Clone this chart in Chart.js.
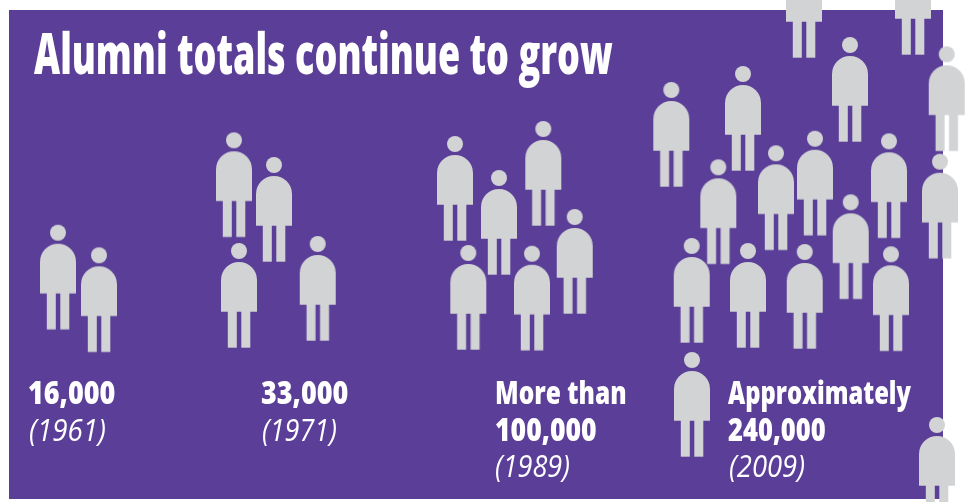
<!DOCTYPE html>
<html>
<head>
<meta charset="utf-8">
<title>Alumni totals continue to grow</title>
<script src="https://cdn.jsdelivr.net/npm/chart.js@4"></script>
<style>
  html, body { margin: 0; background: #fff; overflow: hidden; }
  #stage { position: relative; width: 966px; height: 502px; overflow: hidden; }
  #panel { position: absolute; left: 9px; top: 10px; width: 934px; height: 488.5px; background: #5a3e98; }
  #people { position: absolute; left: 0; top: 0; }
  .txt {
    position: absolute; white-space: nowrap; color: #fff; line-height: 1;
    font-family: "Open Sans", sans-serif; transform-origin: 0 0;
  }
  .title { font-size: 56px; font-weight: 800; }
  .big { font-size: 31px; font-weight: 800; }
  .year { font-size: 31px; font-style: italic; font-weight: 500; }
</style>
</head>
<body>
<div id="stage">
  <div id="panel"></div>
  <canvas id="people" width="966" height="502"></canvas>
</div>
<script>
// Head positions of each figure, one pair of arrays per year
const x1961 = [58, 99];
const y1961 = [232.7, 255.3];
const x1971 = [234, 274, 239, 317.7];
const y1971 = [140.3, 165, 251, 244];
const x1989 = [455, 499, 543.3, 468.3, 532, 574.7];
const y1989 = [144, 178, 129, 253, 253.7, 217];
const x2009 = [671.3, 743, 850, 946.7, 804, 913, 718.3, 776, 815, 889, 940, 850.7, 691.7, 748, 804.7, 891, 692, 937];
const y2009 = [90, 74, 45, 54.3, -39, -42, 167.3, 153.3, 138.7, 141.3, 161.7, 202.3, 246, 251, 252, 254.3, 360, 425];

const titleText = 'Alumni totals continue to grow';
const totals = ['16,000', '33,000', 'More than', '100,000', 'Approximately', '240,000'];
const years = ['(1961)', '(1971)', '(1989)', '(2009)'];

// ── Person icon, centred on the head so the point value is the head ──
function personIcon() {
  const c = document.createElement('canvas');
  c.width = 40;
  c.height = 200;
  const g = c.getContext('2d');
  g.fillStyle = '#d1d3d4';
  g.translate(20, 100);
  g.beginPath();
  g.arc(0, 0, 8, 0, Math.PI * 2);
  g.fill();
  g.beginPath();
  g.moveTo(-18, 60.7);
  g.lineTo(-18, 29);
  g.arc(0, 29, 18, Math.PI, 0);
  g.lineTo(18, 60.7);
  g.closePath();
  g.fill();
  g.fillRect(-11.2, 60, 9, 36.7);
  g.fillRect(2.3, 60, 9, 36.7);
  return c;
}

function series(xs, ys) {
  return {
    data: xs.map((x, i) => ({ x, y: ys[i] })),
    pointStyle: personIcon(),
    radius: 60,
    clip: false,
  };
}

new Chart(document.getElementById('people'), {
  type: 'scatter',
  data: {
    datasets: [
      series(x1961, y1961),
      series(x1971, y1971),
      series(x1989, y1989),
      series(x2009, y2009),
    ],
  },
  options: {
    responsive: false,
    animation: false,
    events: [],
    // the big point radius would otherwise push the scales inwards
    layout: { padding: 0, autoPadding: false },
    plugins: { legend: { display: false }, tooltip: { enabled: false } },
    scales: {
      x: { display: false, min: 0, max: 966 },
      y: { display: false, min: 0, max: 502, reverse: true },
    },
  },
});

// ── Text ──────────────────────────────────────────────────
// The installed faces are wider than the headline face, so each line is squeezed to its width
function addText(text, cls, left, baseline, width) {
  const el = document.createElement('div');
  el.className = 'txt ' + cls;
  el.textContent = text;
  document.getElementById('stage').appendChild(el);
  const size = parseFloat(getComputedStyle(el).fontSize);
  el.style.left = left + 'px';
  el.style.top = (baseline - size * 0.86) + 'px';
  el.style.transform = 'scaleX(' + (width / el.offsetWidth) + ')';
}

addText(titleText, 'title', 34, 72.5, 579);
addText(totals[0], 'big', 28, 404, 87);
addText(years[0], 'year', 29, 441, 77);
addText(totals[1], 'big', 261, 404, 87);
addText(years[1], 'year', 262, 441, 75);
addText(totals[2], 'big', 495, 404, 132);
addText(totals[3], 'big', 495, 441, 102);
addText(years[2], 'year', 495, 477, 75);
addText(totals[4], 'big', 728, 404, 183);
addText(totals[5], 'big', 728, 441, 98);
addText(years[3], 'year', 729, 477, 76);
</script>
</body>
</html>
